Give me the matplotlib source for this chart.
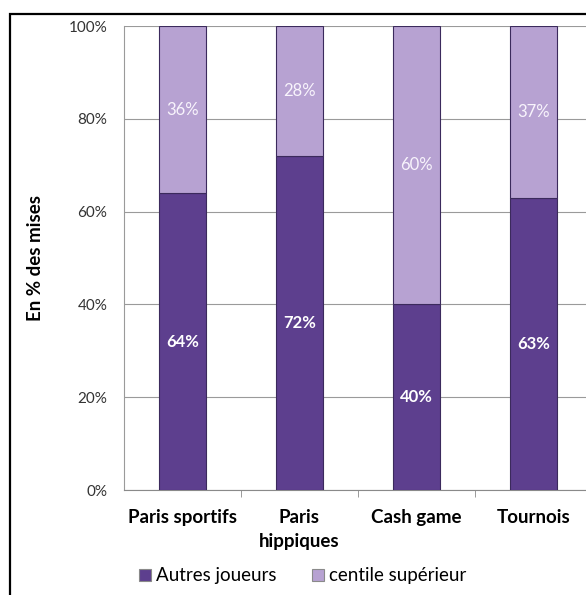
import matplotlib
matplotlib.use('Agg')
from matplotlib import pyplot as plt
from matplotlib.patches import Rectangle
import numpy as np

categories = ['Paris sportifs', 'Paris\nhippiques', 'Cash game', 'Tournois']
autres = [64, 72, 40, 63]
centile = [36, 28, 60, 37]
series_names = ['Autres joueurs', 'centile supérieur']

dark = '#5d3f8e'
light = '#b7a2d2'
edge = '#3b2a5c'

plt.rcParams['font.family'] = ['Lato', 'DejaVu Sans']

fig = plt.figure(figsize=(5.86, 5.95), dpi=100)
fig.set_facecolor('white')
ax = fig.add_axes([124 / 586, 105 / 595, 468 / 586, 464 / 595])

x = np.arange(len(categories))
w = 0.4
b1 = ax.bar(x, autres, w, color=dark, edgecolor=edge, linewidth=0.8,
            label=series_names[0], zorder=3)
b2 = ax.bar(x, centile, w, bottom=autres, color=light, edgecolor=edge,
            linewidth=0.8, label=series_names[1], zorder=3)

for i in range(len(categories)):
    ax.text(x[i], autres[i] / 2, f'{autres[i]}%', ha='center', va='center',
            color='white', fontsize=12, fontweight='bold', zorder=4)
    ax.text(x[i], autres[i] + centile[i] / 2, f'{centile[i]}%', ha='center',
            va='center', color='#f8f4fc', fontsize=12, zorder=4)

ax.set_xlim(-0.5, len(categories) - 0.5)
ax.set_ylim(0, 100)
ax.set_yticks(np.arange(0, 101, 20))
ax.set_yticklabels([f'{v}%' for v in range(0, 101, 20)], fontsize=11,
                   color='#333333')
ax.yaxis.grid(True, color='#9a9a9a', linewidth=0.8, zorder=0)
ax.set_axisbelow(True)

ax.set_xticks(x)
ax.set_xticklabels(categories, fontsize=13.5, fontweight='bold', va='top',
                   linespacing=1.45)
ax.set_xticks(np.arange(0.5, len(categories) - 1, 1), minor=True)
ax.tick_params(axis='x', which='major', length=0, pad=14)
ax.tick_params(axis='x', which='minor', length=5, color='#8a8a8a')
ax.tick_params(axis='y', length=0, pad=12)

for side in ('top', 'right'):
    ax.spines[side].set_visible(False)
ax.spines['left'].set_color('#9a9a9a')
ax.spines['bottom'].set_color('#8a8a8a')

ax.set_ylabel('En % des mises', fontsize=13.5, fontweight='bold', labelpad=18)

leg = fig.legend(handles=[b1, b2], labels=series_names, loc='center',
                 bbox_to_anchor=(303 / 586, 1 - 576 / 595), ncol=2,
                 frameon=False, fontsize=13.5, handlelength=0.6,
                 handleheight=0.6, handletextpad=0.3, columnspacing=1.9)
for h in leg.legend_handles:
    h.set_edgecolor('#8a8a8a')

# outer frame of the original picture (clipped at right and bottom)
fig.patches.append(Rectangle((10 / 586, -0.1), 1.2, 1 - 14 / 595 + 0.1,
                             transform=fig.transFigure, fill=False,
                             edgecolor='black', linewidth=1.6))

fig.savefig('out.png', dpi=100, facecolor='white')
